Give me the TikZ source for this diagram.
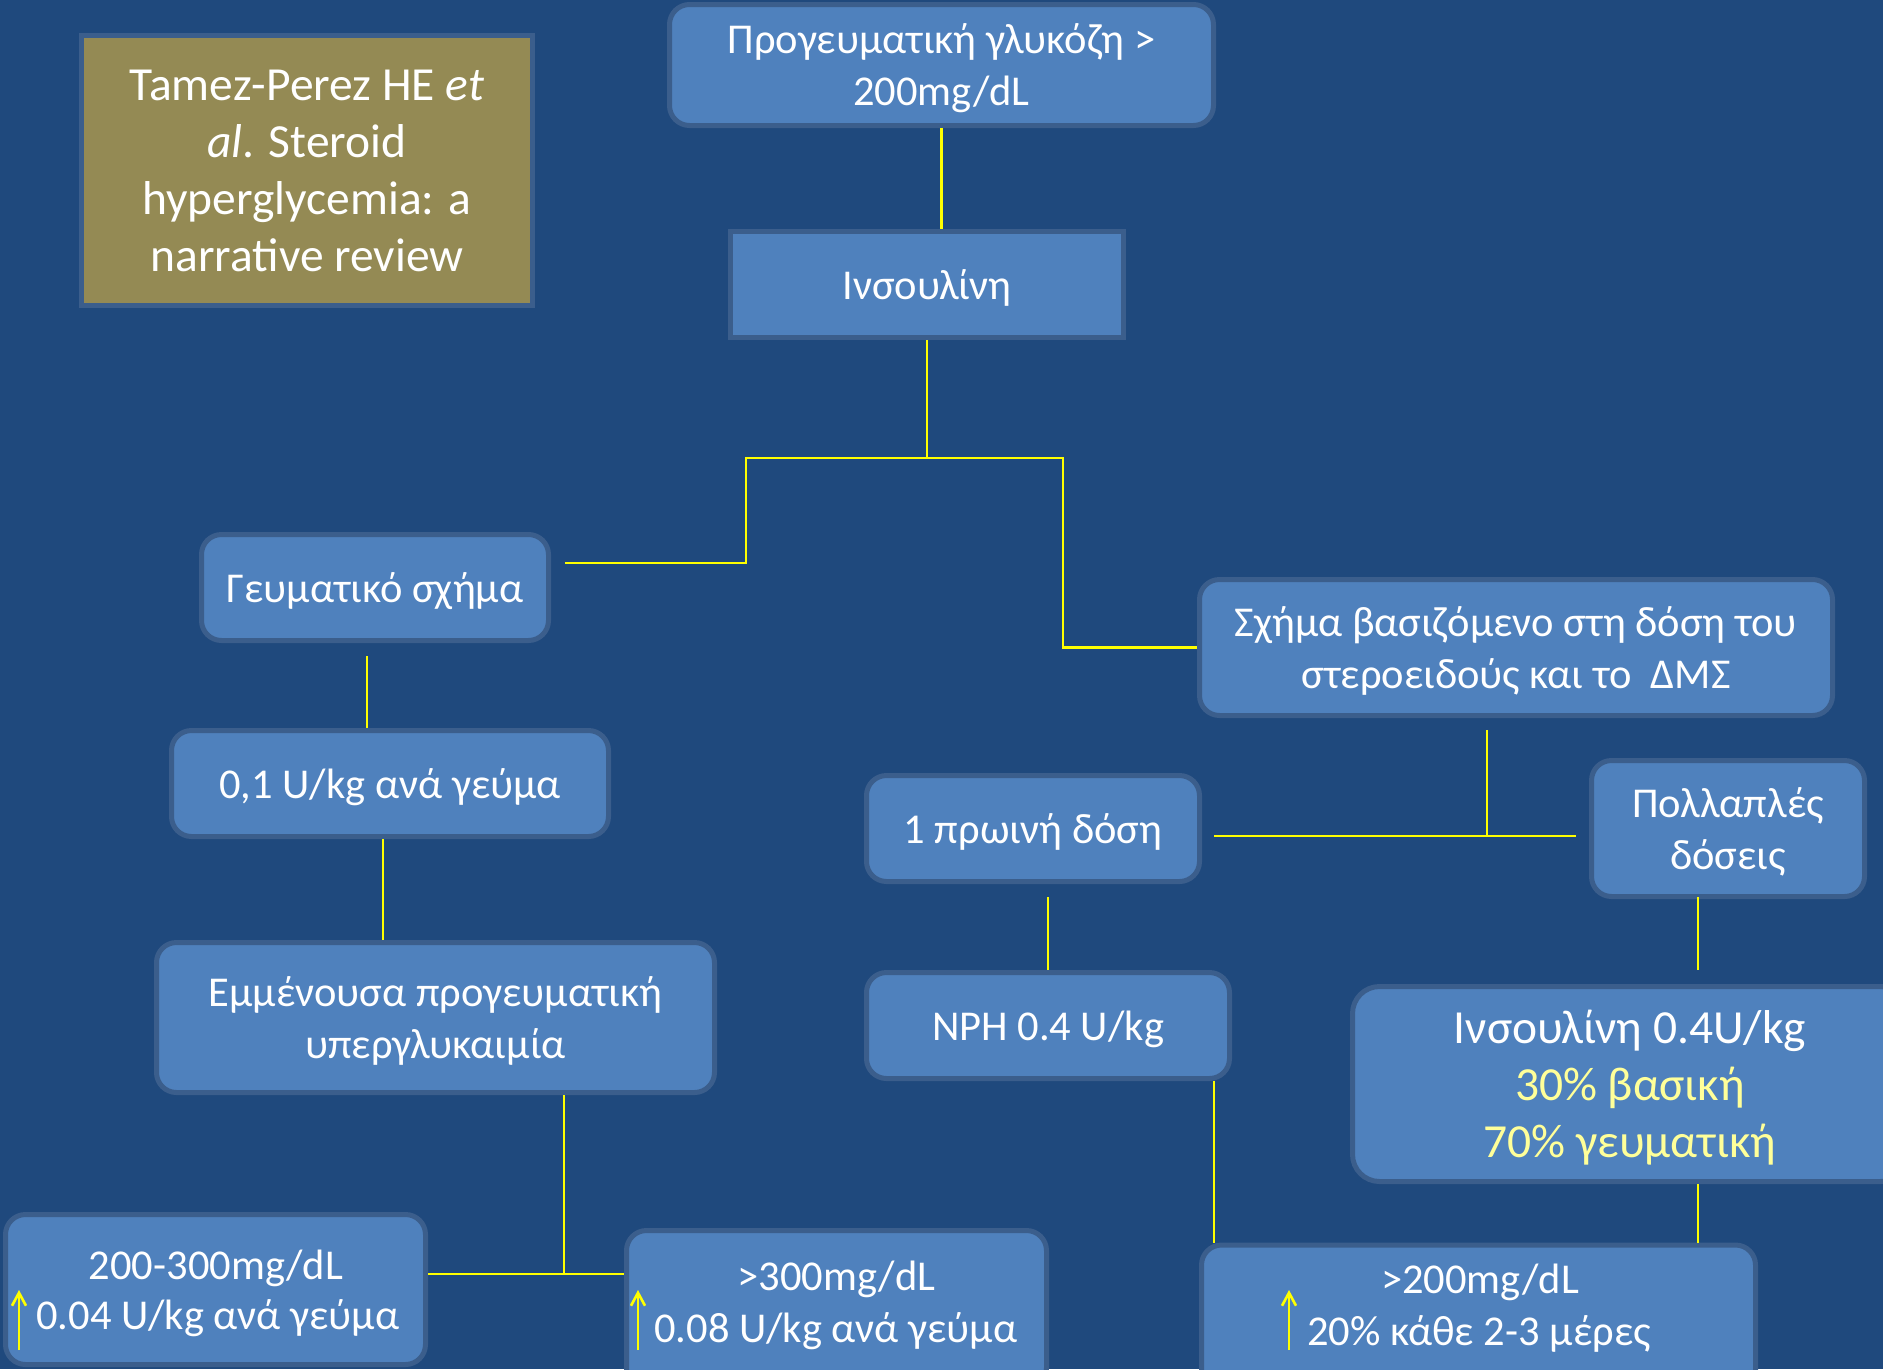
\documentclass[tikz,border=0pt]{standalone}
\usepackage{fontspec}
\setmainfont{Carlito}
\usetikzlibrary{calc,arrows.meta}
\definecolor{bgblue}{HTML}{1F497D}
\definecolor{boxblue}{HTML}{4F81BD}
\definecolor{ringblue}{HTML}{3B5E8C}
\definecolor{olivebox}{HTML}{948A54}
\definecolor{lineyellow}{HTML}{FFFF00}
\definecolor{softyellow}{HTML}{FFFF99}
\begin{document}
\begin{tikzpicture}[x=1pt,y=-1pt,
  blk/.style={draw=ringblue, line width=5pt, fill=boxblue, rounded corners=20pt, text=white, align=center, inner sep=0pt, text depth=0pt, font=\fontsize{42.5}{52}\selectfont},
  sqblk/.style={blk, rounded corners=0pt},
  txt/.style={text=white, inner sep=0pt, font=\fontsize{42.5}{52}\selectfont},
  conn/.style={draw=lineyellow, line width=2.2pt},
  uparr/.style={draw=lineyellow, line width=2.6pt, -{Straight Barb[length=13pt,width=14pt,line width=2.6pt]}}
]
\useasboundingbox (0,0) rectangle (1883,1369);
\fill[bgblue] (0,0) rectangle (1883,1369);
\clip (0,0) rectangle (1883,1369);

% reference box
\node[sqblk, fill=olivebox, minimum width=451pt, minimum height=270pt, font=\fontsize{47.5}{57}\selectfont] (ref) at (307,170.5)
  {Tamez-Perez HE \textit{et}\\\textit{al}. Steroid\\hyperglycemia: a\\narrative review};

% boxes
\node[blk, minimum width=544pt, minimum height=121pt] (glu) at (941.5,65) {Προγευματική γλυκόζη >\\200mg/dL};
\node[sqblk, minimum width=393pt, minimum height=106pt] (ins) at (927,284.5) {Ινσουλίνη};
\node[blk, minimum width=347pt, minimum height=106pt] (geum) at (375,587.5) {Γευματικό σχήμα};
\node[blk, minimum width=437pt, minimum height=106pt] (u01) at (390,783.5) {0,1 U/kg ανά γεύμα};
\node[blk, minimum width=558pt, minimum height=150pt] (emm) at (435.5,1017.5) {Εμμένουσα προγευματική\\υπεργλυκαιμία};
\node[blk, minimum width=633pt, minimum height=136pt] (schema) at (1516,647.5) {Σχήμα βασιζόμενο στη δόση του\\στεροειδούς και το\ \ ΔΜΣ};
\node[blk, minimum width=333pt, minimum height=106pt] (morn) at (1033,828.5) {1 πρωινή δόση};
\node[blk, minimum width=273pt, minimum height=136pt] (poll) at (1728,828.5) {Πολλαπλές\\δόσεις};
\node[blk, minimum width=363pt, minimum height=106pt] (nph) at (1048,1025.5) {NPH 0.4 U/kg};
\node[blk, rounded corners=27pt, minimum width=555pt, minimum height=195pt, font=\fontsize{47.5}{57}\selectfont] (ins04) at (1630,1084)
  {Ινσουλίνη 0.4U/kg\\\textcolor{softyellow}{30\% βασική}\\\textcolor{softyellow}{70\% γευματική}};

% bottom boxes
\node[blk, minimum width=420pt, minimum height=150pt] (b23) at (215.5,1289.5) {};
\node[txt, anchor=base] (b23a) at (216,1279) {200-300mg/dL};
\node[txt, anchor=base west] (b23b) at (36,1329) {0.04 U/kg ανά γεύμα};
\draw[uparr] ($(b23b.base west)+(-17,21)$) -- ++(0,-60);

\node[blk, minimum width=420pt, minimum height=157pt] (b300) at (836.5,1309) {};
\node[txt, anchor=base] (b300a) at (836.5,1290) {>300mg/dL};
\node[txt, anchor=base west] (b300b) at (654,1342) {0.08 U/kg ανά γεύμα};
\draw[uparr] ($(b300b.base west)+(-16,8)$) -- ++(0,-60);

\node[blk, minimum width=554pt, minimum height=152pt] (b200) at (1478.5,1321) {};
\node[txt, anchor=base] (b200a) at (1480,1293) {>200mg/dL};
\node[txt, anchor=base west] (b200b) at (1307,1345) {20\% κάθε 2-3 μέρες};
\draw[uparr] ($(b200b.base west)+(-18,5)$) -- ++(0,-60);

% connectors
\draw[conn] (glu.south) -- (glu.south |- ins.north);
\coordinate (split) at ($(ins.south)+(0,118)$);
\draw[conn] (ins.south) -- (split) -- ++(-181,0) |- ($(geum.east)+(14,-24.5)$);
\draw[conn] (split) -- ++(136,0) |- (schema.west);
\draw[conn] ($(geum.south)+(-8,13)$) coordinate (ga) -- (ga |- u01.north);
\draw[conn] ($(u01.south)+(-7,0)$) coordinate (ua) -- (ua |- emm.north);
\coordinate (j) at ($(emm.south)+(128.5,179)$);
\draw[conn] (emm.south -| j) -- (j);
\draw[conn] (j -| b23.east) -- (j -| b300.west);
\coordinate (k) at ($(schema.south)+(-29,118)$);
\draw[conn] ($(schema.south)+(-29,12)$) -- (k);
\draw[conn] ($(k -| morn.east)+(12,0)$) -- ($(k -| poll.west)+(-13,0)$);
\draw[conn] ($(morn.south)+(15,13)$) coordinate (ma) -- (ma |- nph.north);
\draw[conn] ($(nph.south)+(166,0)$) coordinate (na) -- (na |- b200.north);
\draw[conn] ($(poll.south)+(-30,-2)$) coordinate (pa) -- ($(pa |- ins04.north)+(0,-14)$);
\draw[conn] (pa |- ins04.south) -- (pa |- b200.north);
\end{tikzpicture}
\end{document}
